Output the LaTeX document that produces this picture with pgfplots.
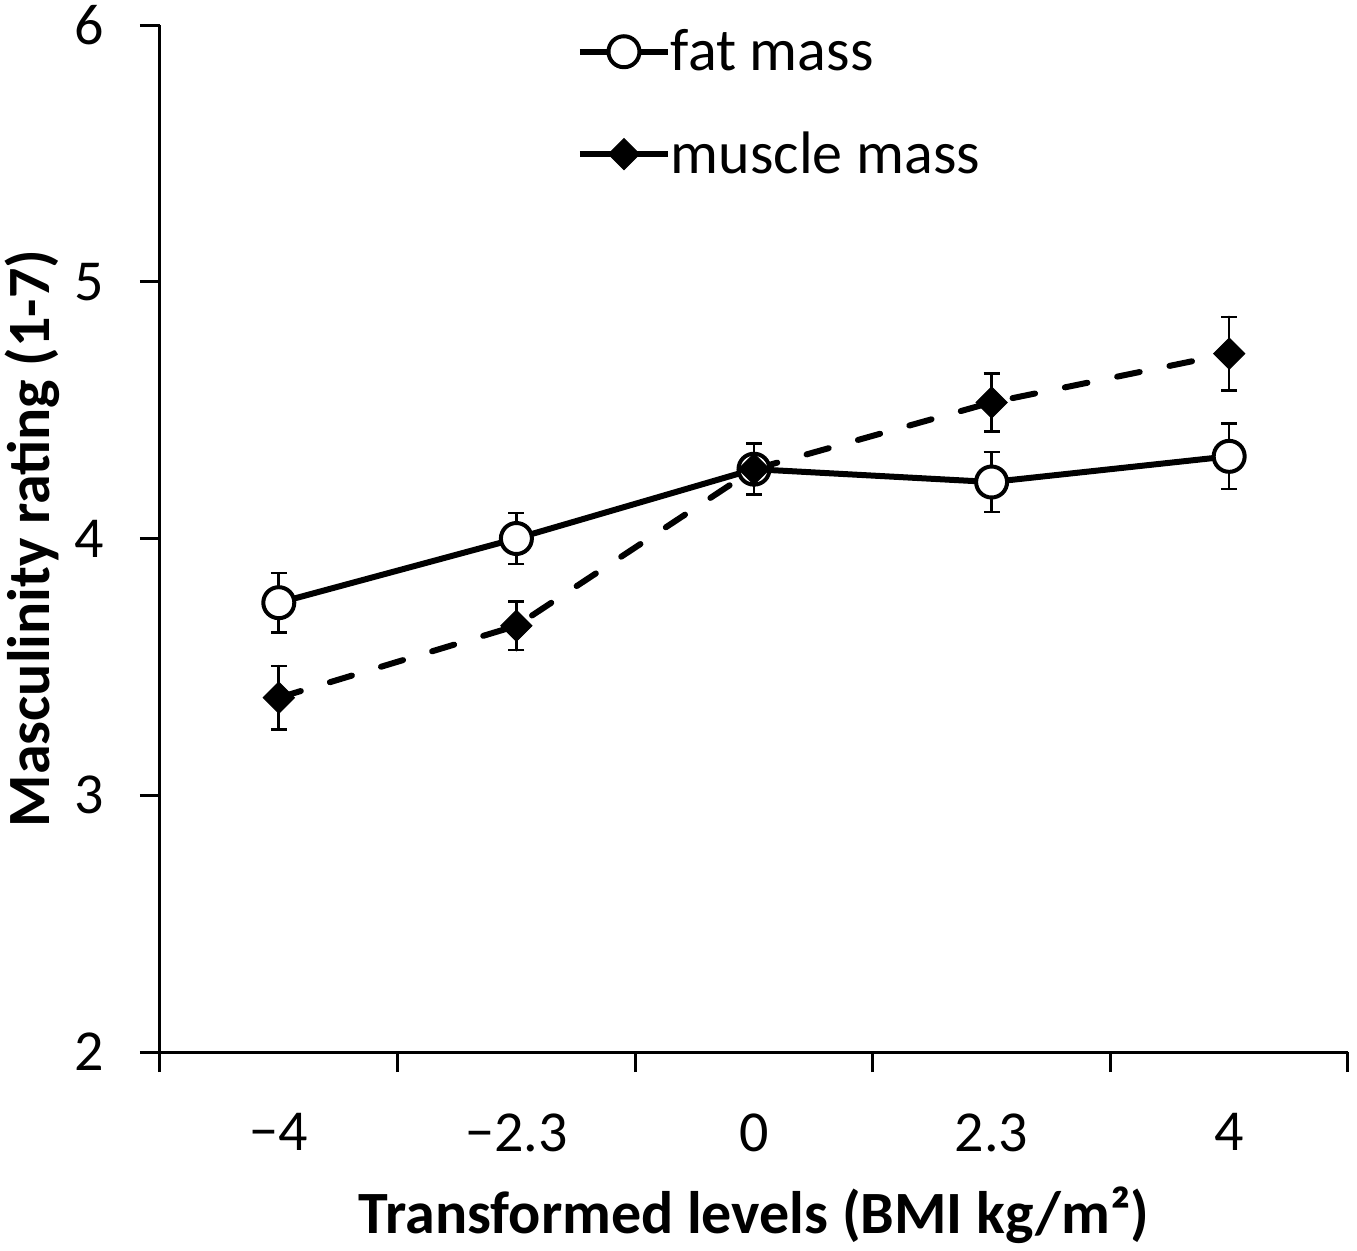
\documentclass[border=0pt]{standalone}
\usepackage{fontspec}
\setmainfont{Carlito}
\usepackage{pgfplots}
\pgfplotsset{compat=1.18}
\begin{document}
\begin{tikzpicture}
\useasboundingbox (-80pt,-99pt) rectangle (598.5pt,526pt);
\begin{axis}[
  at={(0,0)}, anchor=south west,
  scale only axis, width=594pt, height=513.5pt,
  xmin=-0.5, xmax=4.5, ymin=2, ymax=6,
  clip=false,
  axis x line*=bottom, axis y line*=left,
  axis line style={line width=1.5pt, black},
  tick align=outside,
  xtick={0,1,2,3,4}, xticklabels={−4,−2.3,0,2.3,4},
  major x tick style={draw=none},
  minor xtick={-0.5,0.5,1.5,2.5,3.5,4.5},
  ytick={2,3,4,5,6},
  tick style={line width=1.5pt, black},
  major tick length=10pt, minor tick length=10pt,
  /pgf/number format/assume math mode=true,
  tick label style={font=\fontsize{29}{34}\selectfont},
  xticklabel style={inner sep=0pt, anchor=north, yshift=-20.5pt},
  yticklabel style={inner sep=0pt, anchor=east, xshift=-18pt},
  every axis x label/.style={at={(axis description cs:0.5,0)}, anchor=base, yshift=-90.5pt, font=\fontsize{30}{35}\selectfont\bfseries},
  every axis y label/.style={at={(axis description cs:-0.1077,0.5)}, rotate=90, anchor=center, font=\fontsize{30}{35}\selectfont\bfseries},
  xlabel={Transformed levels (BMI kg/m²)},
  ylabel={Masculinity rating (1-7)},
  legend style={at={(axis description cs:0.351,0.924)}, anchor=west, draw=none, fill=none,
    inner sep=0pt, outer sep=0pt, row sep=29pt,
    nodes={inner sep=0pt, font=\fontsize{30}{35}\selectfont},
    /tikz/every even column/.append style={column sep=8.5pt}},
  legend cell align=left,
  legend image code/.code={\draw[#1, solid, line cap=butt, mark repeat=2, mark phase=2] plot coordinates {(0pt,0pt) (22pt,0pt) (44pt,0pt)};},
]
\addplot[black, line width=3pt, mark=*, mark size=7.75pt,
  mark options={solid, fill=white, line width=2pt},
  error bars/.cd, y dir=both, y explicit,
  error bar style={line width=1.3pt, solid, black},
  error mark options={rotate=90, mark size=4pt, line width=1.3pt, black}]
  coordinates {
  (0,3.75) +- (0,0.116)
  (1,4.00) +- (0,0.100)
  (2,4.27) +- (0,0.098)
  (3,4.22) +- (0,0.117)
  (4,4.32) +- (0,0.127)
  };
\addlegendentry{fat mass}
\addplot[black, line width=3pt, line cap=round, dash pattern=on 11.5pt off 15.2pt,
  mark=square*, mark size=5.5pt,
  mark options={solid, rotate=45, fill=black, line width=0.5pt},
  error bars/.cd, y dir=both, y explicit,
  error bar style={line width=1.3pt, solid, black},
  error mark options={rotate=90, mark size=4pt, line width=1.3pt, black}]
  coordinates {
  (0,3.38) +- (0,0.123)
  (1,3.66) +- (0,0.095)
  (2,4.27) +- (0,0.100)
  (3,4.53) +- (0,0.113)
  (4,4.72) +- (0,0.143)
  };
\addlegendentry{muscle mass}
\end{axis}
\end{tikzpicture}
\end{document}
